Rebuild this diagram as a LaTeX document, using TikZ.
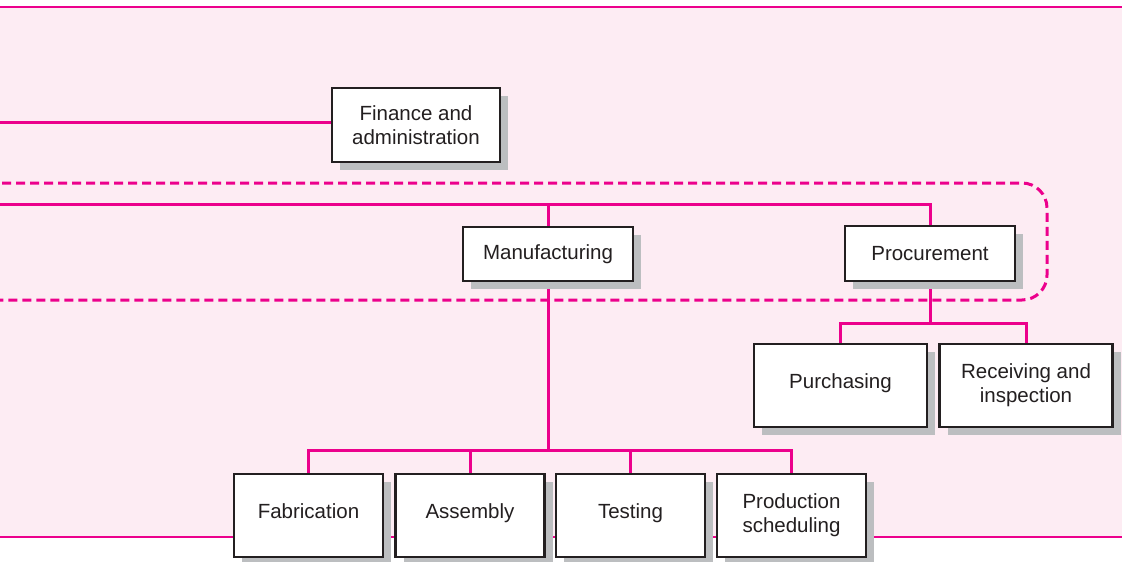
\documentclass[tikz,border=0pt]{standalone}
\usepackage{fontspec}
\setmainfont{Liberation Sans}
\usetikzlibrary{shadows}
\definecolor{mag}{HTML}{EC008C}
\definecolor{pinkbg}{HTML}{FDECF3}
\definecolor{shgray}{HTML}{BCBEC0}
\definecolor{inkc}{HTML}{231F20}
\pgfdeclarelayer{bg}
\pgfsetlayers{bg,main}
\tikzset{
  orgbox/.style={draw=inkc, line width=2.5pt, fill=white, text=inkc, align=center,
    inner sep=0pt, font=\fontsize{20.5}{24}\selectfont,
    drop shadow={shadow xshift=8pt, shadow yshift=-8pt, fill=shgray, opacity=1}},
  lowtext/.style={text depth=8pt},
  conn/.style={draw=mag, line width=3pt},
  border/.style={draw=mag, line width=2pt},
  dashbox/.style={draw=mag, line width=3pt, dash pattern=on 9pt off 5pt, rounded corners=25pt}
}
\begin{document}
\begin{tikzpicture}[x=1pt,y=-1pt]
\useasboundingbox (0,0) rectangle (1122,562);
% boxes
\node[orgbox, minimum width=168pt, minimum height=74pt] (fin) at (416,125) {Finance and\\administration};
\node[orgbox, minimum width=170pt, minimum height=54pt] (manu) at (548,254) {Manufacturing};
\node[orgbox, minimum width=170pt, minimum height=55pt] (proc) at (930,253.5) {Procurement};
\node[orgbox, lowtext, minimum width=173pt, minimum height=83pt] (purch) at (840.5,385.5) {Purchasing};
\node[orgbox, minimum width=173pt, minimum height=83pt] (recv) at (1026,385.5) {Receiving and\\inspection};
\node[orgbox, lowtext, minimum width=149pt, minimum height=83pt] (fab) at (308.5,515.5) {Fabrication};
\node[orgbox, lowtext, minimum width=149pt, minimum height=83pt] (asm) at (470,515.5) {Assembly};
\node[orgbox, lowtext, minimum width=149pt, minimum height=83pt] (test) at (630.5,515.5) {Testing};
\node[orgbox, minimum width=149pt, minimum height=83pt] (prod) at (791.5,515.5) {Production\\scheduling};
% coordinates
\coordinate (finL) at (0,122);
\coordinate (busL) at (0,204);
\coordinate (mbus) at (548,450);
\coordinate (pbus) at (930,323);
\coordinate (dashL) at (-40,183);
\coordinate (dashR) at (1047,183);
\coordinate (dashRB) at (1047,300);
\coordinate (dashLB) at (-40,300);
\coordinate (topL) at (0,7);
\coordinate (topR) at (1122,7);
\coordinate (botL) at (0,536.5);
\coordinate (botR) at (1122,536.5);
\begin{pgfonlayer}{bg}
  \fill[pinkbg] (topL) rectangle (botR);
  \draw[border] (topL) -- (topR);
  \draw[border] (botL) -- (botR);
  \draw[dashbox] (dashL) -- (dashR) -- (dashRB) -- (dashLB);
  \draw[conn] (finL) -- (finL -| fin.west);
  \draw[conn] (busL) -| (proc.north);
  \draw[conn] (manu.north) -- (manu.north |- busL);
  \draw[conn] (manu.south) -- (mbus);
  \draw[conn] (fab.north) |- (mbus) -| (prod.north);
  \draw[conn] (asm.north) -- (asm.north |- mbus);
  \draw[conn] (test.north) -- (test.north |- mbus);
  \draw[conn] (proc.south) -- (pbus);
  \draw[conn] (purch.north) |- (pbus) -| (recv.north);
\end{pgfonlayer}
\end{tikzpicture}
\end{document}
